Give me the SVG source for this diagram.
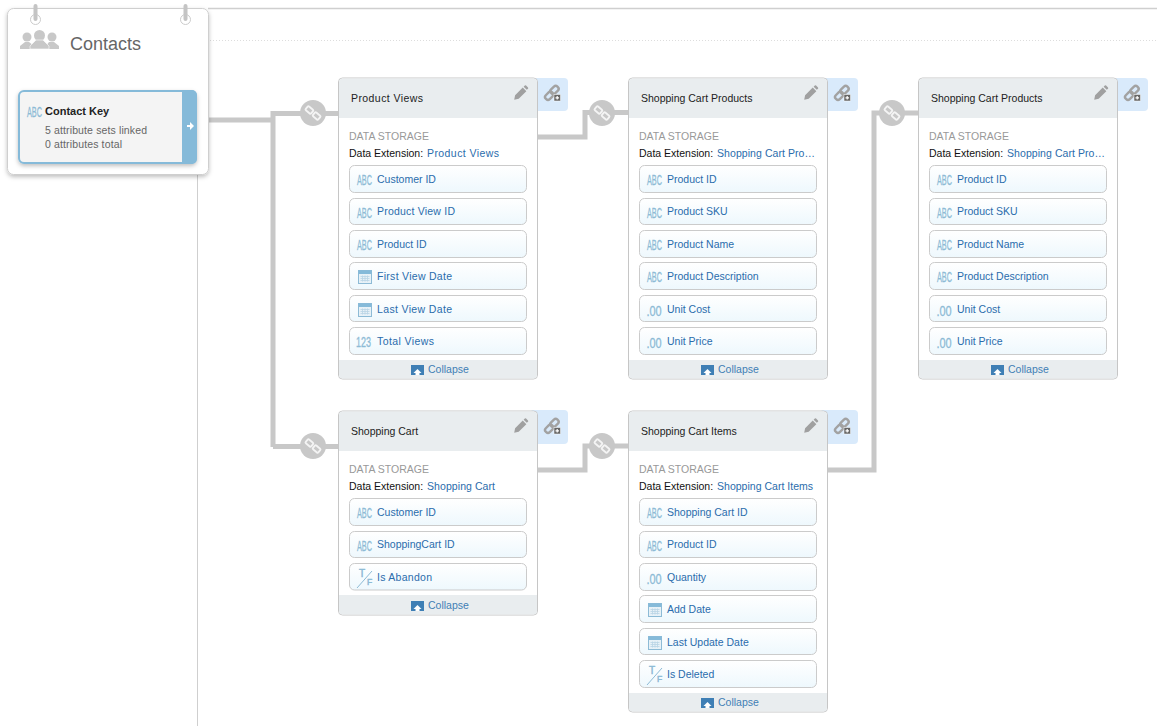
<svg xmlns="http://www.w3.org/2000/svg" width="1157" height="726" viewBox="0 0 1157 726">
<style>
text{font-family:"Liberation Sans",Arial,sans-serif;font-size:10.5px}
.conn{fill:none;stroke:#c8c8c8;stroke-width:5}
.card{fill:#fff;stroke:#c6c6c6;stroke-width:1}
.band{fill:#e9edef}
.tab{fill:#d9eafb}
.f{fill:url(#fg);stroke:#cbcbcb;stroke-width:1}
.fl{fill:#2a6cac}
.ic{fill:#8dbbd6;stroke:#8dbbd6;stroke-width:.3;font-size:14px}
.t{font-size:10px;stroke-width:.5}
.e{font-size:8.500px;stroke-width:.5}
.ds{fill:#999}
.dk{fill:#111}
.col{fill:#3f7fb5}
.ttl{fill:#222}
.sub{fill:#666}
</style>
<defs>
<linearGradient id="fg" x1="0" y1="0" x2="0" y2="1"><stop offset="0" stop-color="#fff"/><stop offset="1" stop-color="#eef8fd"/></linearGradient>
<filter id="sh" x="-10%" y="-10%" width="120%" height="120%"><feDropShadow dx="0" dy="2" stdDeviation="2" flood-color="#000" flood-opacity=".25"/></filter>
<g id="chain"><g fill="none" stroke="#f4f4f4" stroke-width="1.800"><rect x="-3.500" y="-2.500" width="7" height="5" rx="1" transform="translate(-3.600 -3) rotate(40)"/><rect x="-3.500" y="-2.500" width="7" height="5" rx="1" transform="translate(3.600 3) rotate(40)"/></g></g>
<g id="link"><circle r="13" fill="#c8c8c8"/><use href="#chain"/></g>
<g id="pencil"><path transform="scale(.9)" d="M-7 7.500-6 2.500 2.500-6 6.500-2-2 6.500ZM3.500-7 4.800-8.300a1 1 0 0 1 1.400 0L8.300-6.200a1 1 0 0 1 0 1.400L7-3.500Z" fill="#a0a0a0"/></g>
<g id="addlink"><g fill="none" stroke="#a2a2a2" stroke-width="2.400"><rect x="-4.500" y="-2.800" width="9" height="5.600" rx="2.500" transform="translate(2.500 -3) rotate(-45)"/><rect x="-4.500" y="-2.800" width="9" height="5.600" rx="2.500" transform="translate(-2.800 2.800) rotate(-45)"/></g><rect x="2" y="1.500" width="6.500" height="6.500" fill="#666" stroke="#fff" stroke-width=".5"/><path d="M5.200 3v3.500M3.500 4.800h3.500" stroke="#fff" stroke-width="1.200"/></g>
<g id="cal"><rect x="0" y="0" width="13" height="13" fill="#e7f1f7" stroke="#8dbbd6"/><rect x="0" y="0" width="13" height="3.500" fill="#85bad9"/><path d="M2 6h9M2 8h9M2 10h9M4 5v6M6.500 5v6M9 5v6" stroke="#b9d4e4" stroke-width=".8"/></g>
<g id="colicon"><rect width="13" height="10" fill="#3f7fb5"/><path d="M6.500 4 10.500 8H8.500V10H4.500V8H2.500Z" fill="#fff"/></g>
</defs>
<rect width="1157" height="726" fill="#fff"/>
<path d="M208 8.500H1157" stroke="#cfcfcf" stroke-width="1.500" fill="none"/>
<path d="M210 40.500H1157" stroke="#dddddd" stroke-width="1" stroke-dasharray="1 2" fill="none"/>
<path d="M197.500 174V726" stroke="#cfcfcf" stroke-width="1" fill="none"/>

<g id="connectors">
<path class="conn" d="M208 120H273M273 447V113.500H338"/>
<path class="conn" d="M273 446.500H338"/>
<path class="conn" d="M538 137H585V112.500H628"/>
<path class="conn" d="M538 470H585V446H628"/>
<path class="conn" d="M828 470H874V113H918"/>
<use href="#link" x="313" y="113"/>
<use href="#link" x="313" y="446"/>
<use href="#link" x="602" y="113"/>
<use href="#link" x="602" y="446"/>
<use href="#link" x="892" y="113"/>
</g>

<g id="contacts">
<rect x="7.500" y="8.500" width="201" height="166" rx="6" fill="#fff" stroke="#cfcfcf" filter="url(#sh)"/>
<g fill="none"><circle cx="35.500" cy="19.500" r="5" stroke="#ccc" stroke-width="1"/><circle cx="185.500" cy="19.500" r="5" stroke="#ccc" stroke-width="1"/><path d="M35.500 6V19M185.500 6V19" stroke="#c4c4c4" stroke-width="4" stroke-linecap="round"/></g>
<g fill="#c8c8c8"><circle cx="27" cy="37" r="4.500"/><path d="M20 49V46L25 42H29L34 46V49Z"/><circle cx="52" cy="37" r="4.500"/><path d="M46 49V46L49 42H54L59 46V49Z"/><circle cx="39.500" cy="35.500" r="5.500"/><path d="M30 49V46L36 40H43L49 46V49Z" stroke="#fff" stroke-width=".6"/></g>
<text x="70" y="50" style="font-size:18px" fill="#666">Contacts</text>
<rect x="19" y="91" width="177" height="72" rx="5" fill="#f4f4f4" stroke="#85bad9" stroke-width="2" filter="url(#sh)"/>
<path d="M182 90H192a5 5 0 0 1 5 5V159a5 5 0 0 1-5 5H182Z" fill="#85bad9"/>
<path d="M187 125h3v-3l4 4-4 4v-3h-3Z" fill="#fff"/>
<text class="ic" transform="translate(27,116.500) scale(.52,1)">ABC</text>
<text x="45" y="115" style="font-weight:bold;font-size:11px" class="ttl">Contact Key</text>
<text x="45" y="134" class="sub" textLength="102">5 attribute sets linked</text>
<text x="45" y="148" class="sub" textLength="77">0 attributes total</text>
</g>

<g id="product-views">
<rect class="tab" x="530" y="78" width="38" height="33" rx="4"/>
<use href="#addlink" x="552" y="93"/>
<rect class="card" x="338.500" y="78" width="199" height="301" rx="4"/>
<path class="band" d="M339 118V82a3.500 3.500 0 0 1 3.500-3.500H533.500a3.500 3.500 0 0 1 3.500 3.500V118Z"/>
<path class="band" d="M339 360H537V375a3.500 3.500 0 0 1-3.500 3.500H342.500a3.500 3.500 0 0 1-3.500-3.500Z"/>
<use href="#pencil" x="520.500" y="93"/>
<text class="ttl" x="351" y="102" textLength="72">Product Views</text>
<text class="ds" x="349" y="140">DATA STORAGE</text>
<text class="dk" x="349" y="157">Data Extension:</text><text class="fl" x="427" y="157" textLength="72">Product Views</text>
<g transform="translate(349,165)"><rect class="f" x=".5" y=".5" width="177" height="27" rx="5"/><text class="ic" transform="translate(8,20) scale(.52,1)">ABC</text><text class="fl" x="28" y="18">Customer ID</text></g>
<g transform="translate(349,198)"><rect class="f" x=".5" y=".5" width="177" height="26" rx="5"/><text class="ic" transform="translate(8,20) scale(.52,1)">ABC</text><text class="fl" x="28" y="17" textLength="78">Product View ID</text></g>
<g transform="translate(349,230)"><rect class="f" x=".5" y=".5" width="177" height="27" rx="5"/><text class="ic" transform="translate(8,20) scale(.52,1)">ABC</text><text class="fl" x="28" y="18">Product ID</text></g>
<g transform="translate(349,262)"><rect class="f" x=".5" y=".5" width="177" height="27" rx="5"/><use href="#cal" x="9.500" y="8.500"/><text class="fl" x="28" y="18" textLength="75">First View Date</text></g>
<g transform="translate(349,295)"><rect class="f" x=".5" y=".5" width="177" height="26" rx="5"/><use href="#cal" x="9.500" y="8.500"/><text class="fl" x="28" y="18" textLength="75">Last View Date</text></g>
<g transform="translate(349,327)"><rect class="f" x=".5" y=".5" width="177" height="27" rx="5"/><text class="ic" transform="translate(7,20) scale(.64,1)">123</text><text class="fl" x="28" y="18" textLength="57">Total Views</text></g>
<use href="#colicon" x="411" y="365"/>
<text class="col" x="428" y="373">Collapse</text>
</g>

<g id="shopping-cart-products-1">
<rect class="tab" x="820" y="78" width="38" height="33" rx="4"/>
<use href="#addlink" x="842" y="93"/>
<rect class="card" x="628.500" y="78" width="199" height="301" rx="4"/>
<path class="band" d="M629 118V82a3.500 3.500 0 0 1 3.500-3.500H823.500a3.500 3.500 0 0 1 3.500 3.500V118Z"/>
<path class="band" d="M629 360H827V375a3.500 3.500 0 0 1-3.500 3.500H632.500a3.500 3.500 0 0 1-3.500-3.500Z"/>
<use href="#pencil" x="810.500" y="93"/>
<text class="ttl" x="641" y="102">Shopping Cart Products</text>
<text class="ds" x="639" y="140">DATA STORAGE</text>
<text class="dk" x="639" y="157">Data Extension:</text><text class="fl" x="717" y="157" textLength="98">Shopping Cart Pro…</text>
<g transform="translate(639,165)"><rect class="f" x=".5" y=".5" width="177" height="27" rx="5"/><text class="ic" transform="translate(8,20) scale(.52,1)">ABC</text><text class="fl" x="28" y="18">Product ID</text></g>
<g transform="translate(639,198)"><rect class="f" x=".5" y=".5" width="177" height="26" rx="5"/><text class="ic" transform="translate(8,20) scale(.52,1)">ABC</text><text class="fl" x="28" y="17">Product SKU</text></g>
<g transform="translate(639,230)"><rect class="f" x=".5" y=".5" width="177" height="27" rx="5"/><text class="ic" transform="translate(8,20) scale(.52,1)">ABC</text><text class="fl" x="28" y="18">Product Name</text></g>
<g transform="translate(639,262)"><rect class="f" x=".5" y=".5" width="177" height="27" rx="5"/><text class="ic" transform="translate(8,20) scale(.52,1)">ABC</text><text class="fl" x="28" y="18">Product Description</text></g>
<g transform="translate(639,295)"><rect class="f" x=".5" y=".5" width="177" height="26" rx="5"/><text class="ic" transform="translate(7.500,21) scale(.78,1)">.00</text><text class="fl" x="28" y="18">Unit Cost</text></g>
<g transform="translate(639,327)"><rect class="f" x=".5" y=".5" width="177" height="27" rx="5"/><text class="ic" transform="translate(7.500,21) scale(.78,1)">.00</text><text class="fl" x="28" y="18">Unit Price</text></g>
<use href="#colicon" x="701" y="365"/>
<text class="col" x="718" y="373">Collapse</text>
</g>

<g id="shopping-cart-products-2">
<rect class="tab" x="1110" y="78" width="38" height="33" rx="4"/>
<use href="#addlink" x="1132" y="93"/>
<rect class="card" x="918.500" y="78" width="199" height="301" rx="4"/>
<path class="band" d="M919 118V82a3.500 3.500 0 0 1 3.500-3.500H1113.500a3.500 3.500 0 0 1 3.500 3.500V118Z"/>
<path class="band" d="M919 360H1117V375a3.500 3.500 0 0 1-3.500 3.500H922.500a3.500 3.500 0 0 1-3.500-3.500Z"/>
<use href="#pencil" x="1100.500" y="93"/>
<text class="ttl" x="931" y="102">Shopping Cart Products</text>
<text class="ds" x="929" y="140">DATA STORAGE</text>
<text class="dk" x="929" y="157">Data Extension:</text><text class="fl" x="1007" y="157" textLength="98">Shopping Cart Pro…</text>
<g transform="translate(929,165)"><rect class="f" x=".5" y=".5" width="177" height="27" rx="5"/><text class="ic" transform="translate(8,20) scale(.52,1)">ABC</text><text class="fl" x="28" y="18">Product ID</text></g>
<g transform="translate(929,198)"><rect class="f" x=".5" y=".5" width="177" height="26" rx="5"/><text class="ic" transform="translate(8,20) scale(.52,1)">ABC</text><text class="fl" x="28" y="17">Product SKU</text></g>
<g transform="translate(929,230)"><rect class="f" x=".5" y=".5" width="177" height="27" rx="5"/><text class="ic" transform="translate(8,20) scale(.52,1)">ABC</text><text class="fl" x="28" y="18">Product Name</text></g>
<g transform="translate(929,262)"><rect class="f" x=".5" y=".5" width="177" height="27" rx="5"/><text class="ic" transform="translate(8,20) scale(.52,1)">ABC</text><text class="fl" x="28" y="18">Product Description</text></g>
<g transform="translate(929,295)"><rect class="f" x=".5" y=".5" width="177" height="26" rx="5"/><text class="ic" transform="translate(7.500,21) scale(.78,1)">.00</text><text class="fl" x="28" y="18">Unit Cost</text></g>
<g transform="translate(929,327)"><rect class="f" x=".5" y=".5" width="177" height="27" rx="5"/><text class="ic" transform="translate(7.500,21) scale(.78,1)">.00</text><text class="fl" x="28" y="18">Unit Price</text></g>
<use href="#colicon" x="991" y="365"/>
<text class="col" x="1008" y="373">Collapse</text>
</g>

<g id="shopping-cart">
<rect class="tab" x="530" y="410" width="38" height="34" rx="4"/>
<use href="#addlink" x="552" y="426"/>
<rect class="card" x="338.500" y="411" width="199" height="204" rx="4"/>
<path class="band" d="M339 451V415a3.500 3.500 0 0 1 3.500-3.500H533.500a3.500 3.500 0 0 1 3.500 3.500V451Z"/>
<path class="band" d="M339 595H537V611a3.500 3.500 0 0 1-3.500 3.500H342.500a3.500 3.500 0 0 1-3.500-3.500Z"/>
<use href="#pencil" x="520.500" y="426"/>
<text class="ttl" x="351" y="435">Shopping Cart</text>
<text class="ds" x="349" y="473">DATA STORAGE</text>
<text class="dk" x="349" y="490">Data Extension:</text><text class="fl" x="427" y="490" textLength="68">Shopping Cart</text>
<g transform="translate(349,498)"><rect class="f" x=".5" y=".5" width="177" height="27" rx="5"/><text class="ic" transform="translate(8,20) scale(.52,1)">ABC</text><text class="fl" x="28" y="18">Customer ID</text></g>
<g transform="translate(349,531)"><rect class="f" x=".5" y=".5" width="177" height="26" rx="5"/><text class="ic" transform="translate(8,20) scale(.52,1)">ABC</text><text class="fl" x="28" y="17">ShoppingCart ID</text></g>
<g transform="translate(349,563)"><rect class="f" x=".5" y=".5" width="177" height="26.500" rx="5"/><path d="M8 25 23 8" stroke="#8dbbd6" fill="none"/><text class="ic t" x="10" y="14">T</text><text class="ic e" x="18" y="22">F</text><text class="fl" x="28" y="18" textLength="55">Is Abandon</text></g>
<use href="#colicon" x="411" y="601"/>
<text class="col" x="428" y="609">Collapse</text>
</g>

<g id="shopping-cart-items">
<rect class="tab" x="820" y="410" width="38" height="34" rx="4"/>
<use href="#addlink" x="842" y="426"/>
<rect class="card" x="628.500" y="411" width="199" height="301" rx="4"/>
<path class="band" d="M629 451V415a3.500 3.500 0 0 1 3.500-3.500H823.500a3.500 3.500 0 0 1 3.500 3.500V451Z"/>
<path class="band" d="M629 693H827V708a3.500 3.500 0 0 1-3.500 3.500H632.500a3.500 3.500 0 0 1-3.500-3.500Z"/>
<use href="#pencil" x="810.500" y="426"/>
<text class="ttl" x="641" y="435">Shopping Cart Items</text>
<text class="ds" x="639" y="473">DATA STORAGE</text>
<text class="dk" x="639" y="490">Data Extension:</text><text class="fl" x="717" y="490" textLength="96">Shopping Cart Items</text>
<g transform="translate(639,498)"><rect class="f" x=".5" y=".5" width="177" height="27" rx="5"/><text class="ic" transform="translate(8,20) scale(.52,1)">ABC</text><text class="fl" x="28" y="18">Shopping Cart ID</text></g>
<g transform="translate(639,531)"><rect class="f" x=".5" y=".5" width="177" height="26" rx="5"/><text class="ic" transform="translate(8,20) scale(.52,1)">ABC</text><text class="fl" x="28" y="17">Product ID</text></g>
<g transform="translate(639,563)"><rect class="f" x=".5" y=".5" width="177" height="27" rx="5"/><text class="ic" transform="translate(7.500,21) scale(.78,1)">.00</text><text class="fl" x="28" y="18">Quantity</text></g>
<g transform="translate(639,595)"><rect class="f" x=".5" y=".5" width="177" height="27" rx="5"/><use href="#cal" x="9.500" y="8.500"/><text class="fl" x="28" y="18">Add Date</text></g>
<g transform="translate(639,628)"><rect class="f" x=".5" y=".5" width="177" height="26" rx="5"/><use href="#cal" x="9.500" y="8.500"/><text class="fl" x="28" y="18">Last Update Date</text></g>
<g transform="translate(639,660)"><rect class="f" x=".5" y=".5" width="177" height="27" rx="5"/><path d="M8 25 23 8" stroke="#8dbbd6" fill="none"/><text class="ic t" x="10" y="14">T</text><text class="ic e" x="18" y="22">F</text><text class="fl" x="28" y="18">Is Deleted</text></g>
<use href="#colicon" x="701" y="698"/>
<text class="col" x="718" y="706">Collapse</text>
</g>
</svg>
